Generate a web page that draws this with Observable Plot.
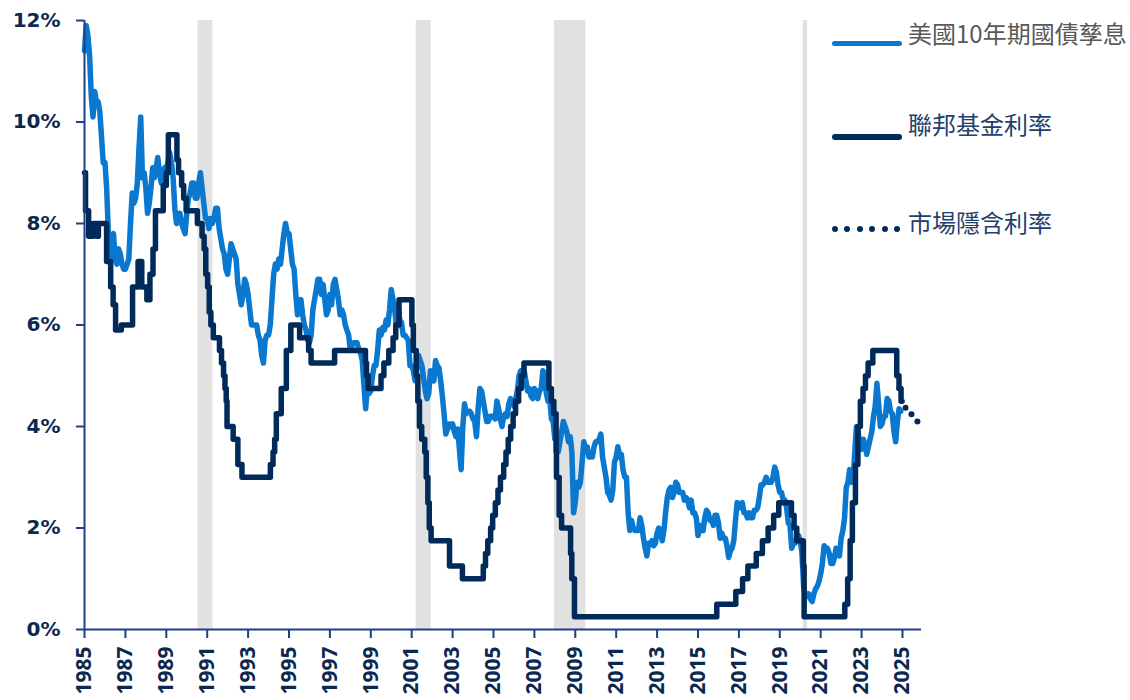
<!DOCTYPE html>
<html>
<head>
<meta charset="utf-8">
<script src="https://cdn.jsdelivr.net/npm/d3@7"></script>
<script src="https://cdn.jsdelivr.net/npm/@observablehq/plot@0.6"></script>
<style>
  html, body { margin: 0; padding: 0; background: #fff; }
  #wrap { position: relative; width: 1130px; height: 700px; overflow: hidden; }
  #wrap svg text { fill: #0c2850; }
  .lg-line { position: absolute; height: 5px; border-radius: 3px; }
  .lg-text { position: absolute; font-family: "Noto Sans CJK TC", "Noto Sans", sans-serif; font-size: 24px; line-height: 24px; white-space: nowrap; }
  .lg-dot { position: absolute; width: 6px; height: 6px; border-radius: 50%; background: #002a5a; }
</style>
</head>
<body>
<div id="wrap"></div>
<script>
// ---- Data ----
const startYear = 1985; // monthly 10Y series starts Jan 1985
const tsy10 = [
  11.4, 11.9, 11.7, 11.3, 10.5, 10.1, 10.6, 10.4, 10.4, 10.2, 9.7, 9.2,   // 1985
  9.2, 8.7, 7.8, 7.3, 7.7, 7.8, 7.3, 7.2, 7.5, 7.4, 7.2, 7.1,            // 1986
  7.1, 7.2, 7.3, 8.0, 8.6, 8.4, 8.5, 8.8, 9.5, 10.1, 8.9, 9.0,           // 1987
  8.7, 8.2, 8.4, 8.7, 9.1, 8.9, 9.1, 9.3, 9.0, 8.8, 9.0, 9.1,            // 1988
  9.1, 9.2, 9.4, 9.2, 8.9, 8.3, 8.0, 8.1, 8.2, 8.0, 7.9, 7.8,            // 1989
  8.2, 8.5, 8.6, 8.8, 8.8, 8.5, 8.5, 8.8, 9.0, 8.7, 8.4, 8.1,            // 1990
  8.1, 7.9, 8.1, 8.0, 8.1, 8.3, 8.3, 7.9, 7.7, 7.5, 7.4, 7.1,            // 1991
  7.0, 7.3, 7.6, 7.5, 7.4, 7.3, 6.8, 6.6, 6.4, 6.6, 6.9, 6.8,            // 1992
  6.6, 6.3, 6.0, 6.0, 6.0, 6.0, 5.8, 5.7, 5.4, 5.25, 5.7, 5.8,           // 1993
  5.8, 6.0, 6.5, 7.0, 7.2, 7.1, 7.3, 7.2, 7.5, 7.8, 8.0, 7.8,            // 1994
  7.8, 7.5, 7.2, 7.1, 6.6, 6.2, 6.3, 6.5, 6.2, 6.0, 5.9, 5.7,            // 1995
  5.65, 5.8, 6.3, 6.5, 6.7, 6.9, 6.9, 6.6, 6.8, 6.5, 6.2, 6.3,           // 1996
  6.6, 6.4, 6.8, 6.9, 6.7, 6.5, 6.2, 6.3, 6.2, 6.0, 5.9, 5.8,            // 1997
  5.5, 5.6, 5.65, 5.65, 5.65, 5.5, 5.45, 5.3, 4.8, 4.35, 4.8, 4.65,      // 1998
  4.7, 5.0, 5.2, 5.2, 5.5, 5.9, 5.8, 5.95, 5.9, 6.1, 6.0, 6.3,           // 1999
  6.7, 6.5, 6.3, 6.0, 6.4, 6.1, 6.05, 5.8, 5.8, 5.75, 5.7, 5.2,          // 2000
  5.2, 5.1, 4.9, 5.15, 5.4, 5.3, 5.2, 4.95, 4.7, 4.55, 4.65, 5.1,        // 2001
  5.0, 4.9, 5.3, 5.2, 5.15, 4.9, 4.6, 4.25, 3.85, 3.95, 4.05, 4.0,       // 2002
  4.05, 3.9, 3.8, 3.95, 3.55, 3.15, 4.0, 4.45, 4.25, 4.3, 4.3, 4.25,     // 2003
  4.15, 4.1, 3.8, 4.35, 4.75, 4.7, 4.5, 4.3, 4.1, 4.1, 4.2, 4.2,         // 2004
  4.2, 4.15, 4.5, 4.35, 4.15, 4.0, 4.2, 4.25, 4.2, 4.45, 4.55, 4.45,     // 2005
  4.4, 4.55, 4.7, 5.0, 5.1, 5.1, 5.1, 4.9, 4.7, 4.75, 4.6, 4.55,         // 2006
  4.75, 4.7, 4.55, 4.7, 4.75, 5.1, 5.0, 4.65, 4.5, 4.55, 4.15, 4.1,      // 2007
  3.75, 3.75, 3.5, 3.7, 3.9, 4.1, 4.0, 3.9, 3.7, 3.8, 3.5, 2.3,          // 2008
  2.5, 2.9, 2.8, 2.9, 3.3, 3.7, 3.55, 3.6, 3.4, 3.4, 3.4, 3.6,           // 2009
  3.7, 3.7, 3.75, 3.85, 3.4, 3.2, 3.0, 2.7, 2.65, 2.55, 2.75, 3.3,       // 2010
  3.4, 3.6, 3.4, 3.45, 3.15, 3.0, 3.0, 2.3, 1.95, 2.15, 2.0, 1.95,       // 2011
  1.95, 1.95, 2.2, 2.05, 1.8, 1.6, 1.45, 1.7, 1.7, 1.75, 1.65, 1.7,      // 2012
  1.9, 2.0, 1.95, 1.75, 1.95, 2.3, 2.6, 2.75, 2.8, 2.6, 2.7, 2.9,        // 2013
  2.85, 2.7, 2.7, 2.7, 2.55, 2.6, 2.55, 2.4, 2.55, 2.3, 2.3, 2.2,        // 2014
  1.85, 2.0, 2.05, 1.95, 2.2, 2.35, 2.3, 2.15, 2.15, 2.05, 2.25, 2.25,   // 2015
  2.1, 1.8, 1.9, 1.8, 1.8, 1.65, 1.42, 1.55, 1.6, 1.75, 2.15, 2.5,       // 2016
  2.45, 2.4, 2.5, 2.3, 2.3, 2.2, 2.3, 2.2, 2.2, 2.35, 2.35, 2.4,         // 2017
  2.6, 2.85, 2.85, 2.9, 3.0, 2.9, 2.9, 2.9, 3.0, 3.2, 3.1, 2.85,         // 2018
  2.7, 2.7, 2.55, 2.55, 2.4, 2.1, 2.05, 1.6, 1.7, 1.7, 1.8, 1.85,        // 2019
  1.75, 1.5, 0.85, 0.65, 0.65, 0.7, 0.6, 0.55, 0.7, 0.8, 0.85, 0.95,     // 2020
  1.1, 1.3, 1.65, 1.6, 1.6, 1.5, 1.3, 1.3, 1.4, 1.6, 1.55, 1.45,         // 2021
  1.8, 1.95, 2.2, 2.8, 2.9, 3.15, 2.9, 2.9, 3.5, 4.0, 3.9, 3.6,          // 2022
  3.55, 3.75, 3.65, 3.45, 3.6, 3.75, 3.9, 4.2, 4.4, 4.85, 4.45, 4.0,     // 2023
  4.05, 4.2, 4.2, 4.55, 4.5, 4.3, 4.25, 3.9, 3.7, 4.1, 4.35, 4.3         // 2024
];

// Fed funds rate (upper bound), change dates (decimal years) and levels
const ffDates = [
  1985.0, 1985.05, 1985.2, 1985.42, 1985.6, 1985.68, 1986.08, 1986.28, 1986.4, 1986.52,
  1986.8, 1987.35, 1987.62, 1987.8, 1988.05, 1988.2, 1988.35, 1988.47, 1988.85, 1989.0,
  1989.1, 1989.52, 1989.6, 1989.75, 1989.85, 1989.97, 1990.52, 1990.75, 1990.85, 1990.93,
  1991.02, 1991.1, 1991.18, 1991.3, 1991.6, 1991.7, 1991.8, 1991.87, 1991.93, 1991.97,
  1992.27, 1992.5, 1992.7, 1994.09, 1994.22, 1994.3, 1994.38, 1994.62, 1994.87, 1995.09,
  1995.52, 1995.96, 1996.08, 1997.23, 1998.74, 1998.79, 1998.87, 1999.5, 1999.64, 1999.88,
  2000.09, 2000.22, 2000.38, 2001.01, 2001.08, 2001.22, 2001.3, 2001.38, 2001.49, 2001.64,
  2001.71, 2001.79, 2001.86, 2001.95, 2002.85, 2003.48, 2004.5, 2004.61, 2004.72, 2004.86,
  2004.96, 2005.09, 2005.22, 2005.34, 2005.5, 2005.61, 2005.72, 2005.84, 2005.96, 2006.08,
  2006.23, 2006.36, 2006.49, 2007.71, 2007.83, 2007.95, 2008.06, 2008.08, 2008.21, 2008.33,
  2008.77, 2008.83, 2008.96, 2015.92, 2016.85, 2017.18, 2017.44, 2017.85, 2018.15, 2018.43,
  2018.7, 2018.95, 2019.57, 2019.7, 2019.83, 2020.15, 2020.19, 2022.18, 2022.32, 2022.44,
  2022.55, 2022.7, 2022.82, 2022.94, 2023.07, 2023.19, 2023.32, 2023.55, 2024.72, 2024.83,
  2024.93, 2024.98
];
const ffRates = [
  9.0, 8.25, 7.75, 8.0, 7.75, 8.0, 7.25, 6.75, 6.4, 5.9,
  6.0, 6.75, 7.25, 6.75, 6.5, 7.0, 7.5, 8.25, 8.75, 9.0,
  9.75, 9.25, 9.0, 8.75, 8.5, 8.25, 8.0, 7.75, 7.5, 7.0,
  6.75, 6.25, 6.0, 5.75, 5.5, 5.25, 5.0, 4.75, 4.5, 4.0,
  3.75, 3.25, 3.0, 3.25, 3.5, 3.75, 4.25, 4.75, 5.5, 6.0,
  5.75, 5.5, 5.25, 5.5, 5.25, 5.0, 4.75, 5.0, 5.25, 5.5,
  5.75, 6.0, 6.5, 6.0, 5.5, 5.0, 4.5, 4.0, 3.75, 3.5,
  3.0, 2.5, 2.0, 1.75, 1.25, 1.0, 1.25, 1.5, 1.75, 2.0,
  2.25, 2.5, 2.75, 3.0, 3.25, 3.5, 3.75, 4.0, 4.25, 4.5,
  4.75, 5.0, 5.25, 4.75, 4.5, 4.25, 3.5, 3.0, 2.25, 2.0,
  1.5, 1.0, 0.25, 0.5, 0.75, 1.0, 1.25, 1.5, 1.75, 2.0,
  2.25, 2.5, 2.25, 2.0, 1.75, 1.25, 0.25, 0.5, 1.0, 1.75,
  2.5, 3.25, 4.0, 4.5, 4.75, 5.0, 5.25, 5.5, 5.0, 4.75,
  4.5, 4.5
];

// Market implied rate path
const impliedDates = [2024.85, 2025.15, 2025.44, 2025.73];
const impliedRates = [4.75, 4.37, 4.24, 4.1];

// Recessions
const recStart = [1990.55, 2001.22, 2007.98, 2020.14];
const recEnd   = [1991.28, 2001.95, 2009.52, 2020.36];

// Ticks
const xTickYears = [1985, 1987, 1989, 1991, 1993, 1995, 1997, 1999, 2001, 2003, 2005, 2007, 2009, 2011, 2013, 2015, 2017, 2019, 2021, 2023, 2025];
const yTickValues = [0, 2, 4, 6, 8, 10, 12];

// Legend labels
const legendLabels = ["美國10年期國債孳息", "聯邦基金利率", "市場隱含利率"];

// ---- Build tables ----
const tsyData = tsy10.map((v, i) => ({date: startYear + i / 12, value: v}));
const ffData = ffDates.map((d, i) => ({date: d, value: ffRates[i]}));
const impliedData = impliedDates.map((d, i) => ({date: d, value: impliedRates[i]}));
const recData = recStart.map((s, i) => ({x1: s, x2: recEnd[i]}));

const BLUE = "#0a78cf";
const NAVY = "#002a5a";
const AXIS = "#1f3f86";

const chart = Plot.plot({
  width: 1130,
  height: 700,
  marginLeft: 84,
  marginRight: 209,
  marginTop: 20,
  marginBottom: 71,
  style: {fontFamily: "'DejaVu Sans', sans-serif", color: AXIS, background: "#fff"},
  x: {domain: [1985, 2025.93], label: null},
  y: {domain: [0, 12], label: null},
  marks: [
    Plot.rect(recData, {x1: "x1", x2: "x2", y1: 0, y2: 12, fill: "#e1e1e1"}),
    Plot.line(tsyData, {x: "date", y: "value", stroke: BLUE, strokeWidth: 5.5, strokeLinejoin: "round", strokeLinecap: "round"}),
    Plot.line(ffData, {x: "date", y: "value", stroke: NAVY, strokeWidth: 5.5, curve: "step-after", strokeLinejoin: "round", strokeLinecap: "round"}),
    Plot.dot(impliedData, {x: "date", y: "value", r: 3, fill: NAVY, stroke: null}),
    Plot.ruleY([0], {stroke: AXIS, strokeWidth: 2}),
    Plot.ruleX([1985], {y1: 0, y2: 12, stroke: AXIS, strokeWidth: 2}),
    Plot.axisY({ticks: yTickValues, tickFormat: d => d + "%", tickSize: 8, tickPadding: 16, fontSize: 20, fontWeight: "bold", label: null, strokeWidth: 2}),
    Plot.axisX({ticks: xTickYears, tickFormat: d => String(d), tickSize: 9, tickPadding: 8, tickRotate: -90, fontSize: 21, fontWeight: "bold", fontFamily: "'Open Sans', sans-serif", label: null, strokeWidth: 2})
  ]
});

const wrap = document.getElementById("wrap");
wrap.appendChild(chart);

// ---- Legend ----
function addEl(cls, styles, text) {
  const el = document.createElement("div");
  el.className = cls;
  Object.assign(el.style, styles);
  if (text) el.textContent = text;
  wrap.appendChild(el);
}
addEl("lg-line", {left: "832px", top: "41px", width: "70px", background: BLUE});
addEl("lg-text", {left: "908px", top: "21px", color: "#595959"}, legendLabels[0]);
addEl("lg-line", {left: "832px", top: "134px", width: "70px", height: "6px", background: NAVY});
addEl("lg-text", {left: "908px", top: "112px", color: "#22406b"}, legendLabels[1]);
for (let i = 0; i < 6; i++) {
  addEl("lg-dot", {left: (832 + i * 12.4) + "px", top: "226px"});
}
addEl("lg-text", {left: "908px", top: "210px", color: "#22406b"}, legendLabels[2]);
</script>
</body>
</html>
